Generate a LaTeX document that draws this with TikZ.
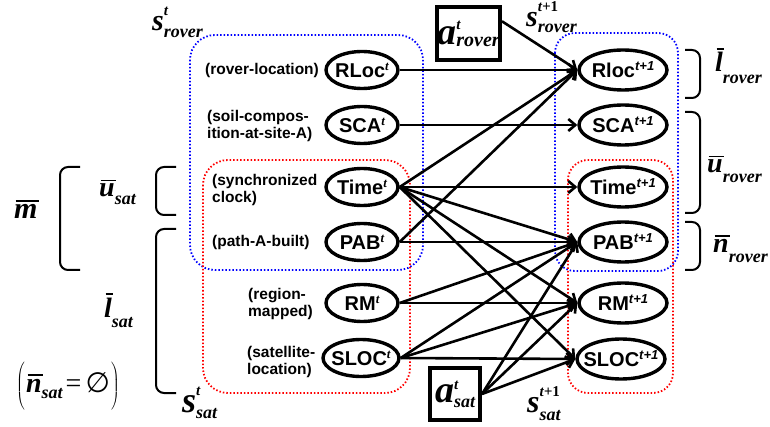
\documentclass[tikz,border=0pt]{standalone}
\usepackage{fontspec}
\setmainfont{Liberation Serif}
\setsansfont{Liberation Sans}
\newfontfamily\symfont{DejaVu Sans}
\usetikzlibrary{shapes.geometric,arrows.meta,shadows}

% small sizes for indices
\newcommand\idxsz{\fontsize{18}{18}\selectfont}
\newcommand\supsz{\fontsize{15}{15}\selectfont}
% letter with super- and subscript: size, letter, sup, sup raise, sub, sub raise
\newcommand\symb[6]{{\fontsize{#1}{#1}\selectfont\bfseries\itshape #2}\rlap{\raisebox{#4}{\supsz\bfseries\itshape #3}}\raisebox{#6}{\idxsz\bfseries\itshape #5}}
% letter with a bar over it
\newcommand\barred[1]{\setbox0=\hbox{#1}\rlap{\kern1.5pt\raisebox{\dimexpr\ht0+3pt\relax}{\rule{\wd0}{1.4pt}}}\box0}
% barred letter with subscript: sub raise, letter, sub
\newcommand\ovsym[3]{{\fontsize{28}{28}\selectfont\bfseries\itshape\barred{#2}}\raisebox{#1}{\idxsz\bfseries\itshape #3}}
% time indices inside the state ellipses
\newcommand\tnow{\raisebox{7pt}{\fontsize{13}{13}\selectfont\rmfamily\bfseries\itshape t}}
\newcommand\tnext{\raisebox{7pt}{\fontsize{13}{13}\selectfont\itshape t+1}}

\tikzset{
  state/.style={ellipse, draw, line width=3.4pt, inner sep=0pt, fill=white,
    font=\sffamily\bfseries\fontsize{20}{20}\selectfont,
    drop shadow={opacity=0.25, shadow xshift=1.2pt, shadow yshift=-1.2pt}},
  lstate/.style={state, minimum width=72pt, minimum height=37pt},
  rstate/.style={state, minimum width=88pt, minimum height=40pt},
  actbox/.style={draw, line width=4pt, inner sep=0pt, fill=white,
    drop shadow={opacity=0.25, shadow xshift=1.2pt, shadow yshift=-1.2pt}},
  lab/.style={font=\sffamily\bfseries\fontsize{15.5}{17}\selectfont, align=left, inner sep=0pt, anchor=west},
  sym/.style={inner sep=0pt, anchor=base west},
  dep/.style={line width=2.6pt, -{Straight Barb[length=7pt,width=12pt]}},
  blueregion/.style={draw=blue, line width=1.8pt, dash pattern=on 1.5pt off 2pt},
  redregion/.style={draw=red, line width=1.8pt, dash pattern=on 1.5pt off 2pt},
  brk/.style={line width=2pt, rounded corners=8pt},
}

\begin{document}
\begin{tikzpicture}[x=1pt, y=-1pt]
\useasboundingbox (0,0) rectangle (770,427);

% groups of state variables
\draw[blueregion, rounded corners=25pt] (190,35) rectangle (423,270);
\draw[redregion, rounded corners=25pt] (203,160) rectangle (410,393);
\draw[blueregion, rounded corners=20pt] (555,33) rectangle (678,271);
\draw[redregion, rounded corners=20pt] (568,160) rectangle (673,393);

% state variables at time t
\node[lstate] (L1) at (362,70)  {\makebox[0pt]{RLoc\tnow}};
\node[lstate] (L2) at (362,125) {\makebox[0pt]{SCA\tnow}};
\node[lstate] (L3) at (362,187) {\makebox[0pt]{Time\tnow}};
\node[lstate] (L4) at (362,242) {\makebox[0pt]{PAB\tnow}};
\node[lstate] (L5) at (362,303) {\makebox[0pt]{RM\tnow}};
\node[lstate, minimum width=76pt] (L6) at (361,358) {\makebox[0pt]{SLOC\tnow}};

% state variables at time t+1
\node[rstate] (R1) at (623,70)  {\makebox[0pt]{Rloc\tnext}};
\node[rstate] (R2) at (623,125) {\makebox[0pt]{SCA\tnext}};
\node[rstate] (R3) at (623,187) {\makebox[0pt]{Time\tnext}};
\node[rstate] (R4) at (623,242) {\makebox[0pt]{PAB\tnext}};
\node[rstate] (R5) at (623,303) {\makebox[0pt]{RM\tnext}};
\node[rstate] (R6) at (621,359) {\makebox[0pt]{SLOC\tnext}};

% actions
\node[actbox, minimum width=63pt, minimum height=53pt] (arover) at (468.5,33.5)
  {\makebox[0pt]{\symb{38}{a}{t}{15pt}{\fontsize{20}{20}\selectfont rover}{-2pt}}};
\node[actbox, minimum width=50pt, minimum height=52pt] (asat) at (455,394)
  {\makebox[0pt]{\symb{38}{a}{t}{13pt}{sat}{-5pt}}};

% descriptions
\node[lab] (d1) at (205,70)  {(rover-location)};
\node[lab] (d2) at (207,126) {(soil-compos-\\ition-at-site-A)};
\node[lab] (d3) at (212,190) {(synchronized\\clock)};
\node[lab] (d4) at (212,242) {(path-A-built)};
\node[lab] (d5) at (248,304) {(region-\\mapped)};
\node[lab] (d6) at (247,362) {(satellite-\\location)};

% dependencies
\draw[dep] (L1.east) -- (R1.west);
\draw[dep] (L3.east) -- (R1.west);
\draw[dep] (L4.east) -- (R1.west);
\draw[dep] (arover.20) -- (R1.west);
\draw[dep] (L2.east) -- (R2.west);
\draw[dep] (L3.east) -- (R3.west);
\draw[dep] (L3.east) -- (R4.west);
\draw[dep] (L4.east) -- (R4.west);
\draw[dep] (L5.east) -- (R4.west);
\draw[dep] (L6.east) -- (R4.west);
\draw[dep] (asat.east) -- (R4.west);
\draw[dep] (L3.east) -- (R5.west);
\draw[dep] (L5.east) -- (R5.west);
\draw[dep] (L6.east) -- (R5.west);
\draw[dep] (asat.east) -- (R5.west);
\draw[dep] (L3.east) -- (R6.west);
\draw[dep] (L6.east) -- (R6.west);
\draw[dep] (asat.east) -- (R6.west);

% group names
\node[sym] (srov) at (152,31) {\symb{30}{s}{t}{15pt}{rover}{-7pt}};
\node[sym] (srov1) at (526,27) {\symb{30}{s}{t+\textup{1}}{15pt}{rover}{-6pt}};
\node[sym] (ssat) at (182,412) {\symb{36}{s}{t}{17pt}{sat}{-6pt}};
\node[sym] (ssat1) at (527,412) {\symb{32}{s}{t+\textup{1}}{16pt}{sat}{-8pt}};

% braces
\draw[brk] (80,167) -- (60,167) -- (60,270) -- (80,270);
\draw[brk] (176,167) -- (156,167) -- (156,215) -- (176,215);
\draw[brk] (176,229) -- (156,229) -- (156,393) -- (176,393);
\draw[brk] (685,50) -- (700,50) -- (700,98) -- (685,98);
\draw[brk] (685,112) -- (700,112) -- (700,213) -- (685,213);
\draw[brk] (685,222) -- (700,222) -- (700,270) -- (685,270);

% partition names
\node[sym] (m) at (14,219) {\fontsize{30}{30}\selectfont\bfseries\itshape\barred{m}};
\node[sym] (usat) at (99,197) {\ovsym{-8pt}{u}{sat}};
\node[sym] (lsat) at (104,317) {\ovsym{-10pt}{l}{sat}};
\node[sym] (nsat) at (16,392) {\fontsize{28}{28}\selectfont
  $\left(\vrule height 30pt depth 20pt width 0pt\right.$\ovsym{-6pt}{n}{sat}\kern3pt{=}\kern4pt{\symfont ∅}$\left.\vrule height 30pt depth 20pt width 0pt\right)$};
\node[sym] (lrov) at (715,72) {\ovsym{-12pt}{l}{rover}};
\node[sym] (urov) at (707,173) {\ovsym{-10pt}{u}{rover}};
\node[sym] (nrov) at (713,253) {\ovsym{-10pt}{n}{rover}};
\end{tikzpicture}
\end{document}
